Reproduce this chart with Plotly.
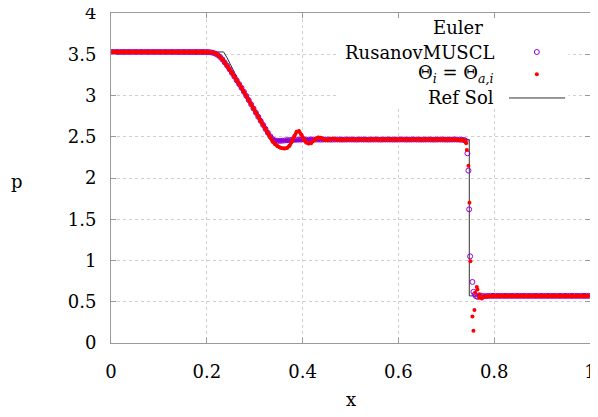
import numpy as np
import plotly.graph_objects as go

# ---------------- data ----------------
# reference (exact) solution breakpoints
ref_x = [0.0, 0.235, 0.2425, 0.25, 0.2625, 0.275, 0.2875, 0.30, 0.3125, 0.325, 0.336, 0.748, 0.748, 1.0]
ref_p = [3.528, 3.528, 3.456, 3.366, 3.220, 3.080, 2.945, 2.815, 2.691, 2.571, 2.466, 2.466, 0.571, 0.571]

# uniform cell centres, left part (148 cells) and right part (45 cells)
dx = 0.005
xA = np.round(0.0025 + dx * np.arange(148), 4)
xB = np.round(0.7775 + dx * np.arange(45), 4)

red_A = [
    3.528, 3.528, 3.528, 3.528, 3.528, 3.528, 3.528, 3.528, 3.528, 3.528,
    3.528, 3.528, 3.528, 3.528, 3.528, 3.528, 3.528, 3.528, 3.528, 3.528,
    3.528, 3.528, 3.528, 3.528, 3.528, 3.528, 3.528, 3.528, 3.528, 3.528,
    3.528, 3.528, 3.528, 3.528, 3.528, 3.528, 3.528, 3.528, 3.528, 3.528,
    3.527, 3.525, 3.52, 3.51, 3.495, 3.47, 3.44, 3.40, 3.36, 3.32,
    3.275, 3.23, 3.185, 3.14, 3.095, 3.045, 2.995, 2.945, 2.893, 2.841,
    2.79, 2.74, 2.691, 2.642, 2.594, 2.545, 2.49, 2.44, 2.41, 2.385,
    2.37, 2.36, 2.357, 2.365, 2.39, 2.44, 2.51, 2.56, 2.568, 2.525,
    2.465, 2.43, 2.418, 2.422, 2.45, 2.475, 2.49, 2.488, 2.475, 2.462,
    2.46, 2.47, 2.475, 2.47, 2.463, 2.465, 2.47, 2.468, 2.466, 2.47,
    2.468, 2.466, 2.469, 2.467, 2.471, 2.468, 2.466, 2.47, 2.468, 2.467,
    2.469, 2.466, 2.47, 2.468, 2.467, 2.47, 2.468, 2.466, 2.469, 2.468,
    2.47, 2.467, 2.468, 2.471, 2.467, 2.468, 2.469, 2.466, 2.47, 2.468,
    2.467, 2.469, 2.468, 2.47, 2.466, 2.468, 2.469, 2.467, 2.468, 2.47,
    2.468, 2.467, 2.469, 2.468, 2.466, 2.462, 2.465, 2.455,
]
purple_A = [
    3.528, 3.528, 3.528, 3.528, 3.528, 3.528, 3.528, 3.528, 3.528, 3.528,
    3.528, 3.528, 3.528, 3.528, 3.528, 3.528, 3.528, 3.528, 3.528, 3.528,
    3.528, 3.528, 3.528, 3.528, 3.528, 3.528, 3.528, 3.528, 3.528, 3.528,
    3.528, 3.528, 3.528, 3.528, 3.528, 3.528, 3.528, 3.528, 3.528, 3.528,
    3.527, 3.524, 3.518, 3.508, 3.492, 3.468, 3.438, 3.40, 3.36, 3.318,
    3.273, 3.228, 3.183, 3.138, 3.093, 3.045, 2.995, 2.945, 2.893, 2.842,
    2.791, 2.741, 2.692, 2.643, 2.595, 2.548, 2.505, 2.47, 2.455, 2.45,
    2.45, 2.452, 2.455, 2.458, 2.46, 2.462, 2.463, 2.464, 2.465, 2.465,
    2.466, 2.466, 2.465, 2.466, 2.467, 2.466, 2.466, 2.465, 2.466, 2.467,
    2.466, 2.465, 2.466, 2.466, 2.467, 2.466, 2.465, 2.466, 2.466, 2.467,
    2.466, 2.466, 2.465, 2.466, 2.467, 2.466, 2.466, 2.465, 2.466, 2.466,
    2.467, 2.466, 2.465, 2.466, 2.466, 2.467, 2.466, 2.466, 2.465, 2.466,
    2.466, 2.467, 2.466, 2.465, 2.466, 2.466, 2.467, 2.466, 2.466, 2.465,
    2.466, 2.466, 2.467, 2.466, 2.465, 2.466, 2.466, 2.467, 2.466, 2.466,
    2.465, 2.466, 2.466, 2.467, 2.466, 2.465, 2.464, 2.46,
]

# cells inside the shock
red_S_x = [0.7400, 0.7415, 0.7429, 0.7462, 0.7483, 0.7504, 0.7545, 0.7566, 0.7587,
           0.7602, 0.7637, 0.7650, 0.7685, 0.7695, 0.7741]
red_S_p = [2.45, 2.42, 2.34, 2.15, 1.70, 0.99, 0.32, 0.15, 0.40,
           0.61, 0.68, 0.65, 0.55, 0.59, 0.54]
purple_S_x = [0.7405, 0.7441, 0.7462, 0.7477, 0.7497, 0.7545, 0.7566, 0.7595, 0.7616,
              0.7650, 0.7700, 0.7740]
purple_S_p = [2.45, 2.30, 2.09, 1.62, 1.05, 0.74, 0.62, 0.59, 0.57,
              0.56, 0.565, 0.57]

red_B = [
    0.56, 0.565, 0.568, 0.57, 0.571, 0.57, 0.572, 0.571, 0.57, 0.571,
    0.572, 0.571, 0.57, 0.571, 0.571, 0.572, 0.57, 0.571, 0.571, 0.57,
    0.572, 0.571, 0.571, 0.57, 0.571, 0.572, 0.571, 0.57, 0.571, 0.571,
    0.572, 0.571, 0.57, 0.571, 0.571, 0.572, 0.571, 0.57, 0.571, 0.571,
    0.571, 0.572, 0.571, 0.57, 0.571,
]
purple_B = [
    0.566, 0.569, 0.57, 0.571, 0.571, 0.571, 0.571, 0.571, 0.571, 0.571,
    0.571, 0.571, 0.571, 0.571, 0.571, 0.571, 0.571, 0.571, 0.571, 0.571,
    0.571, 0.571, 0.571, 0.571, 0.571, 0.571, 0.571, 0.571, 0.571, 0.571,
    0.571, 0.571, 0.571, 0.571, 0.571, 0.571, 0.571, 0.571, 0.571, 0.571,
    0.571, 0.571, 0.571, 0.571, 0.571,
]

x_ticks = [0, 0.2, 0.4, 0.6, 0.8, 1]
x_tick_labels = ["0", "0.2", "0.4", "0.6", "0.8", "1"]
y_ticks = [0, 0.5, 1, 1.5, 2, 2.5, 3, 3.5, 4]
y_tick_labels = ["0", "0.5", "1", "1.5", "2", "2.5", "3", "3.5", "4"]

legend_title = "Euler"
legend_names = ["RusanovMUSCL", "Θ<sub><i>i</i></sub> = Θ<sub><i>a,i</i></sub>", "Ref Sol"]

# ---------------- figure ----------------
FONT = "DejaVu Serif"
FS = 18
PURPLE = "#9400d3"
RED = "#ff0000"
AX = "#9a9a9a"

xr = list(xA) + red_S_x + list(xB)
pr = red_A + red_S_p + red_B
xp = list(xA) + purple_S_x + list(xB)
pp = purple_A + purple_S_p + purple_B

# smooth parts joined (dense dots look like a continuous band)
xr_band = list(xA) + [None] + list(xB)
pr_band = red_A + [None] + red_B
xp_band = list(xA) + [None] + list(xB)
pp_band = purple_A + [None] + purple_B

fig = go.Figure()
fig.add_trace(go.Scatter(x=ref_x, y=ref_p, mode="lines",
                         line=dict(color="#333333", width=1), name=legend_names[2]))
fig.add_trace(go.Scatter(x=xp_band, y=pp_band, mode="lines", connectgaps=False,
                         line=dict(color=PURPLE, width=3.5), hoverinfo="skip",
                         name="RusanovMUSCL band"))
fig.add_trace(go.Scatter(x=xp, y=pp, mode="markers",
                         marker=dict(symbol="circle-open", size=5, color=PURPLE,
                                     line=dict(width=1, color=PURPLE)),
                         name="RusanovMUSCL"))
fig.add_trace(go.Scatter(x=xr_band, y=pr_band, mode="lines", connectgaps=False,
                         line=dict(color=RED, width=3.5), hoverinfo="skip",
                         name="Theta band"))
fig.add_trace(go.Scatter(x=xr, y=pr, mode="markers",
                         marker=dict(symbol="circle", size=4, color=RED,
                                     line=dict(width=0)),
                         name="Theta_i = Theta_a,i"))

axis_common = dict(showline=True, linecolor=AX, linewidth=1, mirror="ticks",
                   ticks="inside", ticklen=5, tickcolor=AX, tickwidth=1,
                   showgrid=True, gridcolor="#cfcfcf", griddash="dot", gridwidth=1,
                   zeroline=False, automargin=False, ticklabeloverflow="allow",
                   tickfont=dict(family=FONT, size=FS, color="black"))

fig.update_xaxes(range=[0, 1], tickvals=x_ticks, ticktext=x_tick_labels,
                 ticklabelstandoff=12, **axis_common)
fig.update_yaxes(range=[0, 4], tickvals=y_ticks, ticktext=y_tick_labels,
                 ticklabelstandoff=10, **axis_common)

# key box (opaque, hides the grid like gnuplot's key)
fig.add_shape(type="rect", xref="x", yref="y", x0=0.472, x1=0.955, y0=2.85, y1=3.995,
              fillcolor="white", line=dict(width=0), layer="between")

ann_font = dict(family=FONT, size=FS, color="black")
fig.add_annotation(x=0.725, y=3.83, xref="x", yref="y", text=legend_title,
                   showarrow=False, font=ann_font, xanchor="center", yanchor="middle")
for name, yy in zip(legend_names, [3.525, 3.265, 2.98]):
    fig.add_annotation(x=0.803, y=yy, xref="x", yref="y", text=name, showarrow=False,
                       font=ann_font, xanchor="right", yanchor="middle")

# key samples
fig.add_shape(type="circle", xref="x", yref="y", xsizemode="pixel", ysizemode="pixel",
              xanchor=0.889, yanchor=3.527, x0=-2.5, x1=2.5, y0=-2.5, y1=2.5,
              line=dict(color=PURPLE, width=1), fillcolor="rgba(0,0,0,0)")
fig.add_shape(type="circle", xref="x", yref="y", xsizemode="pixel", ysizemode="pixel",
              xanchor=0.889, yanchor=3.257, x0=-2, x1=2, y0=-2, y1=2,
              line=dict(color=RED, width=0), fillcolor=RED)
fig.add_shape(type="line", xref="x", yref="y", x0=0.831, x1=0.948, y0=2.97, y1=2.97,
              line=dict(color="#333333", width=1))

# axis titles
fig.add_annotation(x=-0.197, y=0.49, xref="paper", yref="paper", text="p", showarrow=False,
                   font=dict(family=FONT, size=FS, color="black"), xanchor="center", yanchor="middle")
fig.add_annotation(x=0.5, y=-0.172, xref="paper", yref="paper", text="x", showarrow=False,
                   font=dict(family=FONT, size=FS, color="black"), xanchor="center", yanchor="middle")

# the page body adds an 8 px offset, so the figure is 8 px smaller and margins are shifted
fig.update_layout(width=590, height=409,
                  margin=dict(l=102.5, r=8, t=4.7, b=74.3, autoexpand=False),
                  plot_bgcolor="white", paper_bgcolor="white", showlegend=False,
                  font=dict(family=FONT, size=FS, color="black"))

fig.write_html("out.html")
